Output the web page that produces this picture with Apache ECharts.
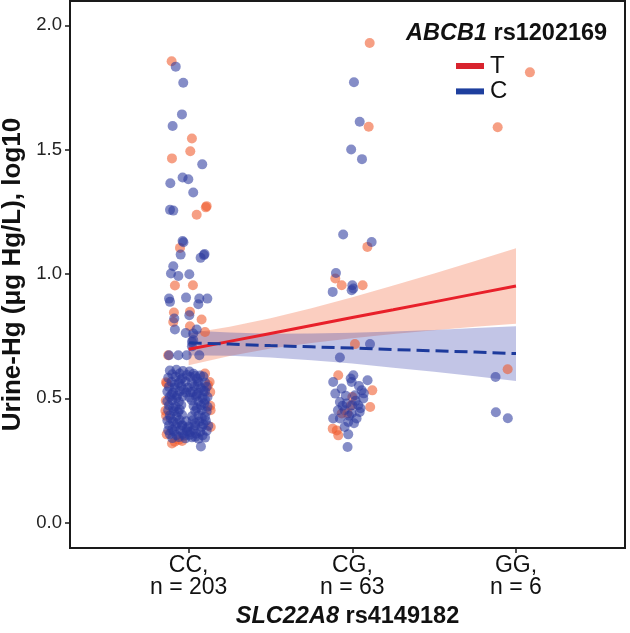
<!DOCTYPE html>
<html><head><meta charset="utf-8">
<script src="https://cdn.jsdelivr.net/npm/echarts@6/dist/echarts.min.js"></script>
<style>html,body{margin:0;padding:0;background:#fff}#c{width:630px;height:633px}</style>
</head><body><div id="c"></div>
<script>
// ---- data ----
const categories = ['CC', 'CG', 'GG'];
const categoryCounts = [203, 63, 6];
const xTickValues = [1, 2, 3];
const yTicks = [0, 0.5, 1.0, 1.5, 2.0];
const legendTitleItalic = 'ABCB1';
const legendTitleRest = ' rs1202169';
const xTitleItalic = 'SLC22A8';
const xTitleRest = ' rs4149182';
const yTitle = 'Urine-Hg (μg Hg/L), log10';
const groups = ['T', 'C'];

// jittered points [x position (category index, 1-based), log10 value]
const tPoints = [
  // CC
  [0.896,1.856],[1.020,1.545],[1.010,1.494],[0.898,1.465],[1.110,1.273],[1.105,1.268],[1.049,1.238],
  [0.947,1.105],[0.916,0.954],[1.026,0.955],[0.910,0.845],[1.008,0.848],[1.079,0.817],[0.906,0.807],
  [1.008,0.790],[1.100,0.767],[0.875,0.673],
  [1.10,0.600],[0.862,0.565],[1.128,0.566],[1.132,0.525],[0.860,0.490],[1.132,0.470],[0.858,0.450],
  [1.134,0.452],[0.862,0.430],[1.135,0.385],[0.866,0.355],[0.915,0.325],[0.960,0.328],[0.898,0.318],
  [0.866,0.560],[0.940,0.333],[1.118,0.553],
  // CG
  [2.106,1.929],[2.100,1.592],[2.092,1.109],[1.896,0.982],[1.935,0.955],[2.063,0.955],[2.016,0.718],
  [1.914,0.593],[2.122,0.532],[2.000,0.505],[2.109,0.465],[1.935,0.439],[1.880,0.378],[1.905,0.371],
  [1.914,0.351],[1.990,0.470],[1.970,0.440],
  // GG
  [3.085,1.811],[2.888,1.590],[2.949,0.617]
];
const cPoints = [
  // CC
  [0.921,1.834],[0.967,1.769],[0.959,1.642],[0.902,1.595],[1.083,1.441],[0.888,1.365],[0.963,1.388],
  [0.998,1.381],[1.028,1.328],[0.886,1.258],[0.906,1.255],[0.963,1.133],[0.968,1.128],[0.951,1.078],
  [1.093,1.076],[1.097,1.080],[1.073,1.065],[0.906,1.031],[0.892,1.002],[0.937,0.992],[1.004,0.999],
  [0.880,0.901],[0.886,0.888],[0.984,0.905],[1.065,0.901],[1.114,0.901],[1.059,0.878],[0.912,0.821],
  [1.004,0.834],[0.916,0.777],[0.982,0.763],[1.049,0.777],[1.028,0.761],[1.028,0.734],[1.020,0.709],
  [0.880,0.673],[0.937,0.673],[0.988,0.673],[1.065,0.673],[1.020,0.727],
  [0.885,0.612],[0.925,0.615],[0.965,0.610],[1.005,0.608],
  [0.900,0.597],[0.945,0.600],[0.990,0.594],[1.030,0.599],[1.070,0.592],
  [0.875,0.583],[0.920,0.587],[0.960,0.581],[1.010,0.586],[1.050,0.580],[1.090,0.588],
  [0.895,0.566],[0.940,0.562],[0.980,0.568],[1.020,0.561],[1.060,0.567],[1.100,0.563],
  [0.880,0.546],[0.915,0.542],[0.955,0.548],[0.995,0.543],[1.035,0.549],[1.075,0.541],[1.110,0.546],
  [0.870,0.527],[0.905,0.522],[0.945,0.528],[0.985,0.523],[1.025,0.526],[1.060,0.521],[1.100,0.528],
  [0.885,0.506],[0.925,0.502],[0.965,0.508],[1.005,0.503],[1.045,0.507],[1.085,0.501],[1.115,0.505],
  [0.870,0.488],[0.900,0.492],[0.940,0.486],[1.020,0.491],[1.060,0.487],[1.100,0.493],
  [0.880,0.471],[0.920,0.467],[0.955,0.473],[1.030,0.469],[1.075,0.472],[1.115,0.466],
  [0.875,0.452],[0.910,0.448],[0.945,0.454],[1.040,0.449],[1.080,0.453],[1.110,0.447],
  [0.885,0.431],[0.925,0.427],[0.960,0.433],[1.020,0.428],[1.060,0.432],[1.100,0.426],
  [0.870,0.411],[0.905,0.407],[0.945,0.413],[0.985,0.408],[1.025,0.412],[1.065,0.406],[1.105,0.410],
  [0.880,0.392],[0.920,0.388],[0.960,0.393],[1.000,0.387],[1.040,0.391],[1.080,0.386],[1.120,0.390],
  [0.875,0.371],[0.910,0.367],[0.950,0.372],[0.990,0.368],[1.030,0.373],[1.070,0.366],[1.110,0.370],
  [0.885,0.356],[0.925,0.352],[0.965,0.357],[1.005,0.353],[1.045,0.358],[1.085,0.351],
  [0.900,0.340],[0.940,0.344],[0.980,0.339],[1.020,0.343],[1.060,0.338],[1.100,0.342],
  [1.075,0.306],
  [0.930,0.510],[0.970,0.535],[1.050,0.515],[0.960,0.390],[1.010,0.365],[0.935,0.445],[1.050,0.460],
  [0.900,0.375],[1.080,0.420],[0.950,0.575],[1.040,0.590],[0.990,0.380],
  [0.895,0.515],[1.010,0.525],[1.090,0.530],[0.905,0.460],[1.095,0.480],[0.890,0.420],[1.040,0.400],
  [0.930,0.400],[1.090,0.396],[0.915,0.555],[1.055,0.555],[0.975,0.350],[1.040,0.345],
  // CG
  [2.010,1.771],[2.045,1.612],[1.993,1.501],[2.059,1.462],[1.944,1.159],[2.118,1.129],[1.900,1.004],
  [2.000,0.955],[2.006,0.942],[1.880,0.928],[1.996,0.935],[2.108,0.718],[1.924,0.664],[2.006,0.593],
  [1.883,0.566],[1.996,0.566],[2.093,0.573],[1.935,0.539],[1.896,0.519],[2.057,0.532],[2.016,0.512],
  [2.067,0.499],[1.924,0.485],[1.965,0.479],[2.000,0.472],[2.036,0.472],[1.912,0.452],[1.953,0.452],
  [2.045,0.445],[1.996,0.439],[1.883,0.419],[1.924,0.419],[2.026,0.419],[1.975,0.405],[1.953,0.385],
  [1.975,0.355],[1.971,0.304],[1.990,0.580],[2.040,0.550],[1.960,0.510],[2.020,0.490],[2.050,0.460],
  [1.980,0.430],[2.070,0.520],[1.940,0.470],[2.010,0.400],
  // GG
  [2.875,0.586],[2.877,0.444],[2.950,0.420]
];

// linear fits with 95% confidence bands, read at these x positions
const fitX    = [1, 1.25, 1.5, 1.75, 2, 2.25, 2.5, 2.75, 3];
const tFit    = [0.697, 0.729, 0.761, 0.793, 0.825, 0.856, 0.888, 0.920, 0.952];
const tUpper  = [0.761, 0.788, 0.822, 0.862, 0.907, 0.954, 1.002, 1.052, 1.104];
const tLower  = [0.633, 0.670, 0.700, 0.723, 0.742, 0.759, 0.774, 0.788, 0.800];
const cFit    = [0.723, 0.718, 0.712, 0.707, 0.702, 0.696, 0.691, 0.686, 0.680];
const cUpper  = [0.773, 0.765, 0.760, 0.761, 0.764, 0.769, 0.775, 0.783, 0.790];
const cLower  = [0.673, 0.671, 0.664, 0.653, 0.640, 0.623, 0.607, 0.589, 0.570];

// ---- styles ----
const FONT = 'Liberation Sans, Arial, Helvetica, sans-serif';
const INK = '#1a1a1a';
const T_POINT = 'rgba(240,88,42,0.72)';
const C_POINT = 'rgba(43,58,158,0.72)';
const T_LINE = '#e8202a';
const C_LINE = '#1d3a9c';
const T_BAND = 'rgba(242,104,58,0.32)';
const C_BAND = 'rgba(52,62,172,0.3)';

function pairs(xs, ys) { return xs.map((x, i) => [x, ys[i]]); }

function band(name, upper, lower, fill) {
  return {
    type: 'custom', name: name + ' band', silent: true,
    data: [[fitX[0], lower[0]]],
    renderItem: function (params, api) {
      const pts = [];
      for (let i = 0; i < fitX.length; i++) pts.push(api.coord([fitX[i], upper[i]]));
      for (let i = fitX.length - 1; i >= 0; i--) pts.push(api.coord([fitX[i], lower[i]]));
      return { type: 'polygon', shape: { points: pts }, style: { fill: fill } };
    }
  };
}

const chart = echarts.init(document.getElementById('c'), null, { renderer: 'canvas' });
chart.setOption({
  animation: false,
  backgroundColor: '#fff',
  textStyle: { fontFamily: FONT },
  grid: { left: 70, right: 5, top: 1, bottom: 85, show: true, borderColor: INK, borderWidth: 2,
          backgroundColor: '#fff', containLabel: false, outerBoundsMode: 'none' },
  title: {
    left: 401, top: 17,
    text: '{i|' + legendTitleItalic + '}{b|' + legendTitleRest + '}',
    textStyle: {
      rich: {
        i: { fontFamily: FONT, fontSize: 23.5, fontWeight: 'bold', fontStyle: 'italic', color: '#111' },
        b: { fontFamily: FONT, fontSize: 23.5, fontWeight: 'bold', color: '#111' }
      }
    }
  },
  legend: {
    left: 451, top: 49, orient: 'vertical', icon: 'rect',
    itemWidth: 28, itemHeight: 6, itemGap: 1.4,
    textStyle: { fontFamily: FONT, fontSize: 24, color: '#111', lineHeight: 24, padding: [0, 0, 0, 1] },
    data: [
      { name: groups[0], itemStyle: { color: '#d8232e' } },
      { name: groups[1], itemStyle: { color: '#1e3f9e' } }
    ]
  },
  xAxis: {
    type: 'value', min: 0.275, max: 3.666,
    splitLine: { show: false },
    axisLine: { show: true, onZero: false, lineStyle: { color: INK, width: 2 } },
    axisTick: { show: true, customValues: xTickValues, length: 5, lineStyle: { color: INK, width: 1.5 } },
    axisLabel: {
      customValues: xTickValues, margin: 7, color: '#111', fontSize: 23, lineHeight: 22, fontFamily: FONT,
      formatter: function (v) {
        const i = Math.round(v) - 1;
        return categories[i] + ',\nn = ' + categoryCounts[i];
      }
    },
    name: '{i|' + xTitleItalic + '}{b|' + xTitleRest + '}',
    nameLocation: 'middle', nameGap: 57,
    nameTextStyle: {
      rich: {
        i: { fontFamily: FONT, fontSize: 23.5, fontWeight: 'bold', fontStyle: 'italic', color: '#111' },
        b: { fontFamily: FONT, fontSize: 23.5, fontWeight: 'bold', color: '#111' }
      }
    }
  },
  yAxis: {
    type: 'value', min: -0.102, max: 2.098,
    splitLine: { show: false },
    axisLine: { show: true, onZero: false, lineStyle: { color: INK, width: 2 } },
    axisTick: { show: true, customValues: yTicks, length: 5, lineStyle: { color: INK, width: 1.5 } },
    axisLabel: {
      customValues: yTicks, margin: 8, color: '#222', fontSize: 18.5, fontFamily: FONT,
      formatter: function (v) { return v.toFixed(1); }
    },
    name: yTitle, nameLocation: 'middle', nameGap: 43, nameRotate: 90,
    nameTextStyle: { fontFamily: FONT, fontSize: 26, fontWeight: 'bold', color: '#111' }
  },
  series: [
    { type: 'scatter', name: 'T points', data: tPoints, symbolSize: 10, itemStyle: { color: T_POINT }, silent: true },
    { type: 'scatter', name: 'C points', data: cPoints, symbolSize: 10, itemStyle: { color: C_POINT }, silent: true },
    band('T', tUpper, tLower, T_BAND),
    band('C', cUpper, cLower, C_BAND),
    { type: 'line', name: groups[0], data: pairs(fitX, tFit), showSymbol: false, symbol: 'none',
      lineStyle: { color: T_LINE, width: 3 }, itemStyle: { color: T_LINE }, silent: true },
    { type: 'line', name: groups[1], data: pairs(fitX, cFit), showSymbol: false, symbol: 'none',
      lineStyle: { color: C_LINE, width: 3, type: [13, 6] }, itemStyle: { color: C_LINE }, silent: true }
  ]
});
</script>
</body></html>
